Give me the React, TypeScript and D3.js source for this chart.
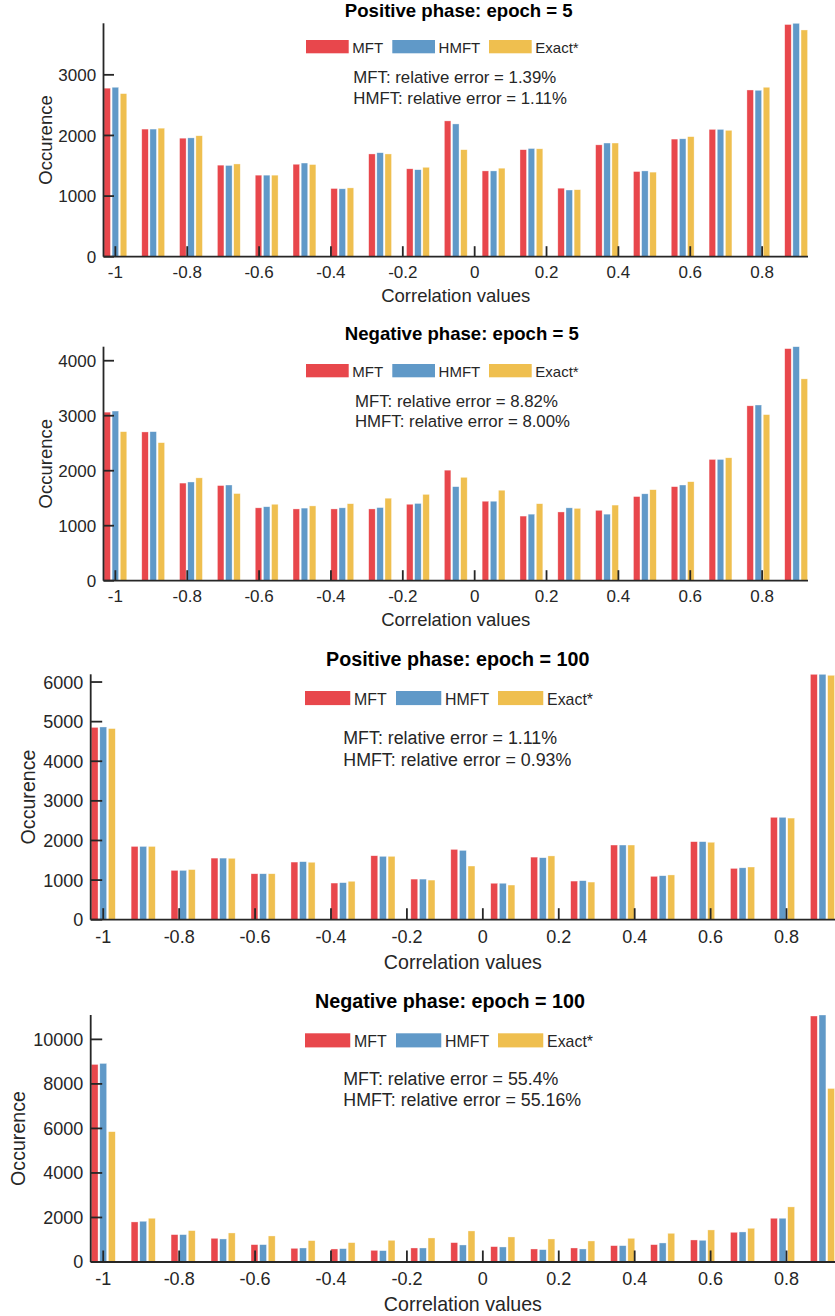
import React from 'react';
import * as d3 from 'd3';

// ---------- data ----------
const binCenters = [-1, -0.8947, -0.7895, -0.6842, -0.5789, -0.4737, -0.3684, -0.2632, -0.1579, -0.0526,
  0.0526, 0.1579, 0.2632, 0.3684, 0.4737, 0.5789, 0.6842, 0.7895, 0.8947];
const xTickValues = [-1, -0.8, -0.6, -0.4, -0.2, 0, 0.2, 0.4, 0.6, 0.8];
const seriesNames = ['MFT', 'HMFT', 'Exact*'];
const seriesColors = ['#E8474C', '#6099C8', '#EFBF4F'];

const pos5MFT = [2780, 2105, 1955, 1510, 1345, 1525, 1125, 1695, 1450, 2240, 1415, 1765, 1130, 1845, 1405, 1940, 2100, 2750, 3830];
const pos5HMFT = [2795, 2105, 1960, 1505, 1345, 1545, 1120, 1715, 1435, 2190, 1415, 1785, 1100, 1875, 1415, 1945, 2100, 2745, 3850];
const pos5Exact = [2690, 2120, 1995, 1530, 1345, 1520, 1135, 1695, 1475, 1765, 1460, 1780, 1105, 1875, 1395, 1980, 2085, 2795, 3740];

const neg5MFT = [3065, 2705, 1775, 1730, 1325, 1305, 1305, 1305, 1390, 2010, 1445, 1175, 1250, 1280, 1530, 1710, 2205, 3180, 4220];
const neg5HMFT = [3085, 2710, 1795, 1740, 1345, 1320, 1325, 1330, 1405, 1710, 1445, 1210, 1325, 1210, 1580, 1740, 2205, 3195, 4255];
const neg5Exact = [2710, 2510, 1870, 1585, 1390, 1360, 1400, 1500, 1570, 1880, 1645, 1400, 1315, 1375, 1655, 1800, 2235, 3020, 3670];

const pos100MFT = [4855, 1850, 1245, 1555, 1160, 1455, 925, 1615, 1025, 1775, 920, 1580, 975, 1885, 1095, 1970, 1295, 2585, 6195];
const pos100HMFT = [4865, 1850, 1245, 1555, 1160, 1465, 935, 1600, 1025, 1750, 920, 1565, 985, 1885, 1110, 1970, 1310, 2585, 6195];
const pos100Exact = [4825, 1850, 1265, 1550, 1160, 1450, 970, 1600, 1000, 1355, 875, 1610, 950, 1885, 1130, 1955, 1330, 2565, 6170];

const neg100MFT = [8875, 1800, 1230, 1065, 780, 615, 585, 525, 630, 870, 690, 585, 630, 735, 780, 990, 1335, 1965, 11050];
const neg100HMFT = [8920, 1830, 1230, 1035, 780, 630, 600, 510, 630, 765, 675, 555, 585, 735, 855, 975, 1350, 1965, 11095];
const neg100Exact = [5855, 1965, 1410, 1305, 1170, 960, 870, 975, 1080, 1395, 1125, 1035, 945, 1065, 1290, 1440, 1515, 2475, 7795];

const panelTitles = ['Positive phase: epoch = 5', 'Negative phase: epoch = 5', 'Positive phase: epoch = 100', 'Negative phase: epoch = 100'];
const errorMFT = ['1.39%', '8.82%', '1.11%', '55.4%'];
const errorHMFT = ['1.11%', '8.00%', '0.93%', '55.16%'];
const yTicks1 = [0, 1000, 2000, 3000];
const yTicks2 = [0, 1000, 2000, 3000, 4000];
const yTicks3 = [0, 1000, 2000, 3000, 4000, 5000, 6000];
const yTicks4 = [0, 2000, 4000, 6000, 8000, 10000];

const xLabel = 'Correlation values';
const yLabel = 'Occurence';

// ---------- layout ----------
const FONT = "'Liberation Sans', Arial, Helvetica, sans-serif";
const TEXT = '#262626';
const X_DOMAIN = [-1.033, 0.9277];
const SLOT = 0.0227;
const BAR_W = 0.0182;

type Layout = {
  left: number; right: number; top: number; bottom: number; s: number;
  titleX: number; titleDy: number; legX: number; legOffsets: number[]; legDy: number;
  annX: number; annDy1: number; annDy2: number; yLabX: number; xTickDy: number; xLabDy: number; tickLen: number;
};

const layouts: Layout[] = [
  { left: 103.5, right: 808, top: 23.3, bottom: 256.7, s: 1, titleX: 458.8, titleDy: -6.4, legX: 306, legOffsets: [0, 86.3, 183], legDy: 16.7,
    annX: 353.3, annDy1: 60, annDy2: 81, yLabX: 51.5, xTickDy: 21.7, xLabDy: 45, tickLen: 10.5 },
  { left: 103.5, right: 808, top: 346.7, bottom: 580.7, s: 1, titleX: 461.8, titleDy: -6.7, legX: 306, legOffsets: [0, 86.3, 183], legDy: 17.3,
    annX: 355, annDy1: 60, annDy2: 80, yLabX: 51.5, xTickDy: 21.2, xLabDy: 45.3, tickLen: 10.5 },
  { left: 90.7, right: 835, top: 674.3, bottom: 919.7, s: 1.06, titleX: 457.7, titleDy: -8, legX: 305, legOffsets: [0, 91, 193], legDy: 16.7,
    annX: 343.3, annDy1: 69.7, annDy2: 91.4, yLabX: 35, xTickDy: 23.6, xLabDy: 49.3, tickLen: 11.5 },
  { left: 90.7, right: 835, top: 1015, bottom: 1262, s: 1.06, titleX: 450, titleDy: -7.5, legX: 305, legOffsets: [0, 91, 193], legDy: 18.3,
    annX: 343.3, annDy1: 70, annDy2: 90.7, yLabX: 25, xTickDy: 23, xLabDy: 49, tickLen: 11.5 },
];

const panelSeries = [
  [pos5MFT, pos5HMFT, pos5Exact],
  [neg5MFT, neg5HMFT, neg5Exact],
  [pos100MFT, pos100HMFT, pos100Exact],
  [neg100MFT, neg100HMFT, neg100Exact],
];
const panelYTicks = [yTicks1, yTicks2, yTicks3, yTicks4];

function Panel({ idx }: { idx: number }) {
  const L = layouts[idx];
  const series = panelSeries[idx];
  const yMax = d3.max(series.flat()) as number;
  const x = d3.scaleLinear().domain(X_DOMAIN).range([L.left, L.right]);
  const y = d3.scaleLinear().domain([0, yMax]).range([L.bottom, L.top]);
  const bw = x(BAR_W) - x(0);
  const s = L.s;
  const swW = 42.7 * s, swH = 13.3 * s;
  const lw = 1.8;

  return (
    <g fontFamily={FONT} fill={TEXT}>
      {/* bars */}
      {series.map((vals, k) =>
        vals.map((v, i) => {
          const cx = x(binCenters[i] + (k - 1) * SLOT);
          return (
            <rect key={`b${k}-${i}`} x={cx - bw / 2} y={y(v)} width={bw} height={y(0) - y(v)}
              fill={seriesColors[k]} stroke="#ffffff" strokeOpacity={0.6} strokeWidth={0.6} />
          );
        })
      )}
      {/* axes */}
      <line x1={L.left} x2={L.left} y1={L.top} y2={L.bottom} stroke={TEXT} strokeWidth={lw} />
      <line x1={L.left} x2={L.right} y1={L.bottom} y2={L.bottom} stroke={TEXT} strokeWidth={lw} />
      {xTickValues.map((t) => (
        <g key={`xt${t}`}>
          <line x1={x(t)} x2={x(t)} y1={L.bottom} y2={L.bottom - L.tickLen} stroke={TEXT} strokeWidth={lw} />
          <text x={x(t)} y={L.bottom + L.xTickDy} textAnchor="middle" fontSize={17 * s}>{String(t)}</text>
        </g>
      ))}
      {panelYTicks[idx].map((t) => (
        <g key={`yt${t}`}>
          <line x1={L.left} x2={L.left + L.tickLen} y1={y(t)} y2={y(t)} stroke={TEXT} strokeWidth={lw} />
          <text x={L.left - 7.3} y={y(t)} dy="0.36em" textAnchor="end" fontSize={17 * s}>{String(t)}</text>
        </g>
      ))}
      {/* labels */}
      <text x={(L.left + L.right) / 2} y={L.bottom + L.xLabDy} textAnchor="middle" fontSize={18.5 * s}>{xLabel}</text>
      <text transform={`translate(${L.yLabX},${(L.top + L.bottom) / 2}) rotate(-90)`} textAnchor="middle" fontSize={18.5 * s}>{yLabel}</text>
      <text x={L.titleX} y={L.top + L.titleDy} textAnchor="middle" fontSize={18.6 * s} fontWeight="bold" fill="#000">{panelTitles[idx]}</text>
      {/* legend */}
      {seriesNames.map((name, k) => {
        const sx = L.legX + L.legOffsets[k] * 1;
        const sy = L.top + L.legDy;
        return (
          <g key={`lg${k}`}>
            <rect x={sx} y={sy} width={swW} height={swH} fill={seriesColors[k]} />
            <text x={sx + swW + 3.6 * s} y={sy + swH} fontSize={15 * s}>{name}</text>
          </g>
        );
      })}
      {/* annotations */}
      <text x={L.annX} y={L.top + L.annDy1} fontSize={16.8 * s}>{`MFT: relative error = ${errorMFT[idx]}`}</text>
      <text x={L.annX} y={L.top + L.annDy2} fontSize={16.8 * s}>{`HMFT: relative error = ${errorHMFT[idx]}`}</text>
    </g>
  );
}

export default function App() {
  return (
    <svg width={835} height={1316} viewBox="0 0 835 1316"
      style={{ position: 'absolute', left: 0, top: 0, background: '#ffffff', display: 'block' }}>
      <rect x={0} y={0} width={835} height={1316} fill="#ffffff" />
      {[0, 1, 2, 3].map((i) => <Panel key={i} idx={i} />)}
    </svg>
  );
}
